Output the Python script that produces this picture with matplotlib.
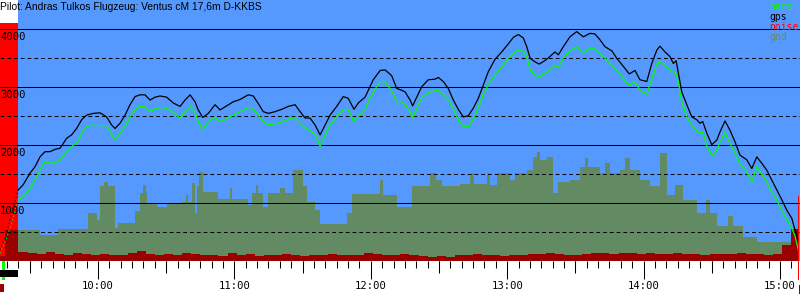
import numpy as np
import matplotlib
matplotlib.use("Agg")
import matplotlib.pyplot as plt
import matplotlib.transforms as mtransforms

# flight data, time in minutes after midnight, altitude in m
times = [556.9, 559.5, 562.2, 564.9, 567.1, 570.1, 572.3, 574.5, 576.7, 578.9,
         581.1, 583.3, 584.7, 586.2, 588.4, 590.6, 592.8, 595.0, 597.9, 600.9,
         603.8, 606.0, 607.5, 609.7, 611.9, 614.1, 616.3, 618.5, 620.7, 622.9,
         625.1, 627.3, 630.2, 633.1, 636.1, 638.3, 640.5, 642.7, 644.1, 646.1,
         648.5, 651.5, 653.7, 656.6, 659.5, 662.5, 666.1, 668.3, 670.5, 672.7,
         674.9, 677.9, 680.8, 683.7, 686.7, 688.9, 691.1, 693.3, 695.5, 697.7,
         699.9, 702.1, 705.0, 707.9, 710.1, 712.6, 714.5, 717.5, 718.9, 721.1,
         724.1, 726.3, 729.2, 731.4, 733.6, 735.1, 737.3, 738.4, 740.2, 742.4,
         745.3, 748.3, 749.7, 751.9, 754.1, 756.3, 758.5, 760.7, 762.9, 765.1,
         767.3, 769.5, 771.7, 774.6, 777.6, 780.5, 782.7, 784.9, 787.1, 788.6,
         790.1, 792.2, 794.1, 796.6, 798.8, 801.0, 802.5, 804.7, 807.6, 810.6,
         813.5, 816.4, 818.6, 820.8, 823.0, 826.0, 828.2, 831.1, 833.7, 836.2,
         838.4, 841.4, 843.6, 845.8, 847.2, 849.4, 851.6, 853.1, 854.3, 855.3,
         856.8, 859.0, 861.2, 863.4, 864.8, 866.0, 867.8, 870.0, 872.2, 873.6,
         875.8, 878.0, 880.2, 882.4, 885.4, 887.6, 889.8, 892.0, 894.2, 896.4,
         898.6, 900.8, 903.0, 905.2, 906.6, 908.1]
gps = [200, 440, 850, 1230, 1320, 1520, 1630, 1800, 1890, 1890,
       1930, 1950, 2030, 2120, 2180, 2290, 2440, 2520, 2550, 2560,
       2490, 2350, 2290, 2380, 2520, 2700, 2840, 2870, 2870, 2780,
       2830, 2850, 2830, 2730, 2670, 2780, 2870, 2750, 2610, 2480,
       2550, 2700, 2610, 2680, 2750, 2790, 2870, 2850, 2720, 2580,
       2550, 2580, 2620, 2670, 2700, 2580, 2470, 2470, 2350, 2180,
       2350, 2520, 2670, 2840, 2810, 2620, 2730, 2830, 2950, 3130,
       3290, 3300, 3200, 2980, 2950, 2920, 2780, 2680, 2830, 3010,
       3130, 3140, 3170, 3100, 2980, 2780, 2620, 2490, 2510, 2640,
       2810, 3040, 3270, 3480, 3610, 3750, 3860, 3910, 3850, 3700,
       3500, 3440, 3400, 3460, 3530, 3610, 3560, 3700, 3870, 3960,
       3870, 3930, 3920, 3820, 3700, 3630, 3500, 3360, 3230, 3290,
       3130, 3100, 3410, 3640, 3710, 3610, 3530, 3410, 3460, 3240,
       2920, 2700, 2490, 2440, 2380, 2410, 2210, 2010, 2090, 2230,
       2420, 2260, 2060, 1830, 1750, 1600, 1800, 1690, 1570, 1400,
       1230, 1060, 880, 740, 540, 340]
baro = [140, 370, 680, 1060, 1110, 1260, 1400, 1570, 1720, 1690,
        1700, 1750, 1820, 1890, 1980, 2040, 2210, 2330, 2350, 2340,
        2340, 2190, 2100, 2210, 2330, 2490, 2620, 2670, 2660, 2580,
        2630, 2650, 2640, 2570, 2470, 2580, 2670, 2570, 2400, 2280,
        2410, 2490, 2410, 2460, 2520, 2580, 2650, 2640, 2520, 2410,
        2350, 2370, 2400, 2450, 2480, 2380, 2300, 2250, 2190, 1980,
        2180, 2350, 2490, 2610, 2620, 2400, 2510, 2620, 2750, 2920,
        3100, 3090, 2940, 2750, 2750, 2710, 2570, 2470, 2640, 2820,
        2910, 2940, 2940, 2880, 2790, 2630, 2440, 2320, 2320, 2450,
        2650, 2880, 3050, 3210, 3350, 3500, 3590, 3640, 3620, 3530,
        3300, 3210, 3180, 3240, 3300, 3380, 3340, 3500, 3630, 3700,
        3600, 3670, 3660, 3590, 3500, 3380, 3300, 3150, 3030, 3100,
        2950, 2880, 3150, 3400, 3450, 3370, 3300, 3260, 3230, 3090,
        2750, 2490, 2350, 2250, 2210, 2230, 1980, 1830, 1920, 2060,
        2220, 2030, 1870, 1680, 1540, 1370, 1630, 1500, 1370, 1190,
        1060, 880, 710, 570, 440, 190]

gnd_t = [564.8, 574.5, 582.4, 595.6, 599.6, 600.9, 602.6, 604.4, 607.5, 608.8,
         616.3, 618.5, 619.8, 621.1, 621.6, 626.0, 630.4, 637.0, 638.7, 639.6,
         641.4, 642.7, 643.6, 644.4, 646.2, 652.8, 658.1, 659.0, 666.0, 667.8,
         669.5, 670.4, 672.6, 674.8, 680.1, 682.3, 685.8, 690.2, 691.9, 695.5,
         697.7, 709.5, 711.7, 724.1, 725.4, 731.5, 738.1, 746.1, 748.7, 751.3,
         759.3, 763.7, 765.4, 771.1, 772.4, 775.5, 781.2, 783.4, 788.7, 791.4,
         793.1, 794.4, 797.5, 800.2, 802.4, 807.6, 812.0, 814.2, 815.6, 820.8,
         823.0, 825.2, 829.6, 831.8, 834.0, 838.4, 842.8, 847.2, 850.3, 853.8,
         857.4, 863.5, 867.5, 869.2, 872.3, 877.1, 879.3, 883.7, 889.9, 907.5]
gnd = [540, 450, 560, 830, 710, 1290, 1370, 1290, 570, 660,
       860, 1180, 1320, 1180, 1010, 940, 1010, 1030, 1140, 1030,
       1350, 830, 1290, 1540, 1200, 1070, 1260, 1070, 970, 1180,
       1320, 1180, 940, 1180, 1260, 1180, 1570, 1290, 1030, 880,
       640, 830, 1160, 1400, 1140, 940, 1300, 1520, 1400, 1300,
       1340, 1520, 1340, 1520, 1320, 1520, 1400, 1520, 1580, 1800,
       1890, 1750, 1800, 1180, 1370, 1400, 1630, 1780, 1630, 1520,
       1690, 1520, 1580, 1780, 1580, 1400, 1290, 1870, 1140, 1320,
       1060, 830, 1060, 830, 600, 780, 600, 420, 340, 340]

noise_t = [556.9, 559.0] + list(np.arange(565, 909, 4)) + [908.2]
noise = [90, 540,
         160, 150, 130, 160, 120, 110, 140, 120, 110, 130, 100,
         110, 140, 170, 130, 110, 120, 100, 150, 120, 100, 110,
         90, 140, 110, 120, 90, 110, 100, 130, 110, 90, 100,
         100, 130, 100, 110, 100, 140, 120, 100, 110, 120, 100,
         90, 80, 90, 80, 110, 100, 120, 110, 100, 90, 110,
         100, 120, 130, 140, 120, 110, 100, 130, 150, 140, 130,
         150, 140, 130, 140, 120, 130, 140, 120, 130, 110, 120,
         130, 120, 140, 130, 120, 110, 130, 280, 560, 560]

takeoff = 564.95
landing = 907.9
hours = [600, 660, 720, 780, 840, 900]
hour_labels = ["10:00", "11:00", "12:00", "13:00", "14:00", "15:00"]
alt_labels = [1000, 2000, 3000, 4000]

title = "Pilot: Andras Tulkos Flugzeug: Ventus cM 17,6m D-KKBS"

BLUE = "#5599ff"
GND = "#638b63"
NOISE = "#9a0000"
mono = "DejaVu Sans Mono"

fig = plt.figure(figsize=(8, 3), dpi=100)
ax = fig.add_axes([0, 38.7 / 300, 1, 261.3 / 300])
ax.set_facecolor(BLUE)
ax.set_xlim(556.9, 908.8)
ax.set_ylim(0, 4505)
for s in ax.spines.values():
    s.set_visible(False)

# engine / tow part before takeoff
ax.axvspan(556.9, takeoff, ymax=4114 / 4505, color="#ff0000", lw=0, zorder=0.5)
ax.axvspan(556.9, takeoff, ymin=4114 / 4505, color="white", lw=0, zorder=0.5)

ax.fill_between(gnd_t, gnd, step="post", color=GND, lw=0, zorder=1)
ax.fill_between(noise_t, noise, step="post", color=NOISE, lw=0, zorder=1.5)

for a in range(500, 4500, 500):
    if a % 1000 == 0:
        ax.axhline(a, color="black", lw=0.75, zorder=2)
    else:
        ax.axhline(a, color="black", lw=0.75, ls=(0, (3.6, 2.9)), zorder=2)
for a in alt_labels:
    ax.text(557.0, a - 40, str(a), family=mono, fontsize=7.6, va="top", ha="left", zorder=4)

t = np.array(times)
pre = t <= takeoff + 0.1
ax.plot(t[pre], np.array(baro)[pre], color="#00ff00", lw=0.8, ls=(0, (1, 2.5)), zorder=3)
ax.plot(t[pre], np.array(gps)[pre], color="black", lw=0.8, ls=(0, (1, 2.5)), zorder=3)
post = t >= takeoff - 0.1
ax.plot(t[post], np.array(baro)[post], color="#00ff00", lw=0.9, zorder=3)
ax.plot(t[post], np.array(gps)[post], color="black", lw=0.9, zorder=3)

# time axis
ax.set_yticks([])
ax.set_xticks(hours)
ax.set_xticklabels(hour_labels, family=mono, fontsize=7.6)
ax.set_xticks(np.arange(560, 910, 5), minor=True)
ax.tick_params(axis="x", which="major", direction="out", length=13, width=0.75, pad=1)
ax.tick_params(axis="x", which="minor", direction="out", length=5, width=0.75)
sec = ax.secondary_xaxis("bottom")
sec.set_xticks(np.arange(570, 900, 60))
sec.tick_params(direction="out", length=8.6, width=0.75, labelbottom=False)
for s in sec.spines.values():
    s.set_visible(False)

# takeoff / landing markers under the axis
trans = mtransforms.blended_transform_factory(ax.transData, ax.transAxes)
ax.add_patch(plt.Rectangle((557.6, -0.072), 1.5, 0.072, color="#00ff00", transform=trans, clip_on=False, lw=0))
ax.add_patch(plt.Rectangle((556.9, -0.059), takeoff - 556.9, 0.026, color="black", transform=trans, clip_on=False, lw=0))
ax.add_patch(plt.Rectangle((556.9, -0.118), 1.7, 0.03, color=NOISE, transform=trans, clip_on=False, lw=0))
ax.add_patch(plt.Rectangle((landing, -0.072), 0.6, 0.32, color="#ff0000", transform=trans, clip_on=False, lw=0, zorder=5))
ax.add_patch(plt.Rectangle((landing + 0.6, -0.125), 0.4, 0.035, color=NOISE, transform=trans, clip_on=False, lw=0))

fig.text(0, 0.993, title, family="Liberation Sans", fontsize=7.4, va="top", ha="left")
legend = [("baro", "#00ff00"), ("gps", "black"), ("noise", "#ff0000"), ("gnd", GND)]
for i, (name, col) in enumerate(legend):
    fig.text(769 / 800, 1 - (2 + 10 * i) / 300, name, family=mono, fontsize=7.0, color=col, va="top", ha="left")

fig.savefig("out.png", dpi=100)
